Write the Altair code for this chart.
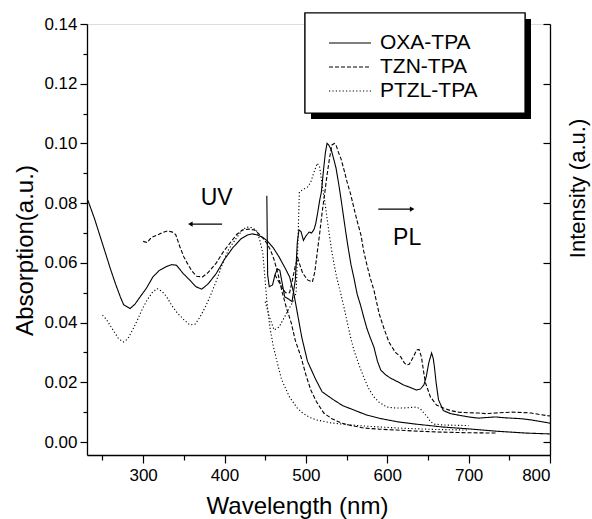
import altair as alt
import pandas as pd

FONT = "Liberation Sans"

compounds = ["OXA-TPA", "TZN-TPA", "PTZL-TPA"]

# ---- OXA-TPA ----
oxa_abs_nm = [232, 240, 247, 254, 260, 266, 272, 276, 284, 290, 296, 304, 312, 320, 329, 335, 341, 349,
              357, 365, 372, 380, 390, 400, 410, 420, 428, 434, 441, 447, 452, 460, 467, 474, 480, 485,
              490, 495, 502, 512, 520, 532, 545, 561, 575, 593, 612, 635, 669, 700, 735, 770, 800]
oxa_abs_val = [0.081, 0.075, 0.069, 0.063, 0.0578, 0.053, 0.0486, 0.046, 0.0447, 0.0462, 0.0485, 0.0515,
               0.0553, 0.0575, 0.0588, 0.0594, 0.0592, 0.0565, 0.0543, 0.052, 0.0512, 0.053, 0.0565,
               0.0612, 0.065, 0.068, 0.0693, 0.0697, 0.0693, 0.0685, 0.0675, 0.065, 0.062, 0.0585,
               0.0553, 0.05, 0.0425, 0.035, 0.027, 0.021, 0.0168, 0.0145, 0.0122, 0.0105, 0.009,
               0.0078, 0.0068, 0.006, 0.005, 0.0044, 0.0036, 0.003, 0.0027]

oxa_pl_nm = [452, 453, 455, 459, 462, 465, 468, 471, 474, 478, 483, 487, 489.5, 491.5, 494, 497, 500,
             504, 507, 510, 512, 514, 517, 519, 522, 524, 526, 528, 531, 534, 537, 540, 543, 546, 549,
             552, 555.5, 559, 563, 567, 571, 575, 579, 583.6, 588, 592, 598, 604, 612, 620, 628, 636,
             641, 645, 648, 651, 654.5, 656.5, 658, 660, 663, 669, 678, 687.5, 700, 712, 722, 733, 745,
             752, 765, 777, 790, 800]
oxa_pl_val = [0.0825, 0.056, 0.052, 0.0526, 0.056, 0.058, 0.0575, 0.053, 0.0486, 0.048, 0.047, 0.0543,
              0.067, 0.071, 0.0705, 0.0675, 0.069, 0.0703, 0.07, 0.0712, 0.073, 0.076, 0.081, 0.0837,
              0.092, 0.097, 0.1, 0.0995, 0.098, 0.095, 0.0918, 0.087, 0.0817, 0.076, 0.0703, 0.065,
              0.0593, 0.055, 0.0495, 0.046, 0.0419, 0.038, 0.035, 0.0318, 0.027, 0.0241, 0.0225,
              0.0214, 0.0203, 0.0191, 0.0183, 0.0174, 0.0178, 0.0191, 0.022, 0.0265, 0.0298, 0.028,
              0.0251, 0.02, 0.0141, 0.0105, 0.0095, 0.009, 0.0084, 0.008, 0.0082, 0.0084, 0.0081,
              0.008, 0.0078, 0.0074, 0.0068, 0.0063]

# ---- TZN-TPA ----
tzn_abs_nm = [300, 305, 310, 317, 324, 330, 336, 340, 345, 350, 354, 360, 366, 373, 380, 390, 398, 405,
              415, 422, 430, 437, 445, 452, 457, 461, 466, 471, 476, 482, 487, 494, 500, 506, 513, 522,
              532, 543, 556, 571, 590, 612, 640, 669, 700, 735]
tzn_abs_val = [0.0672, 0.0668, 0.0685, 0.0693, 0.0702, 0.0707, 0.0703, 0.0695, 0.0655, 0.062, 0.06,
               0.0572, 0.0555, 0.0553, 0.0568, 0.06, 0.0635, 0.066, 0.0695, 0.071, 0.0713, 0.071,
               0.069, 0.0666, 0.064, 0.061, 0.056, 0.05, 0.045, 0.0399, 0.034, 0.0285, 0.0225,
               0.0174, 0.0135, 0.0097, 0.0078, 0.0064, 0.0055, 0.0047, 0.0043, 0.004, 0.0036,
               0.0033, 0.0031, 0.003]

tzn_pl_nm = [462, 466, 470, 475, 480, 484, 487, 490, 493, 496, 502, 508, 511, 514, 517, 520, 523, 526,
             529, 532, 535, 537, 540, 543, 547, 550.6, 555, 559, 563, 567.7, 571, 575, 579, 583.6, 590,
             596, 602, 610, 616.6, 621, 624, 627, 630, 633, 636, 639, 642, 645, 647, 653, 660.6, 669,
             678, 687.5, 700, 712, 722, 733, 745, 752, 765, 777, 788, 800]
tzn_pl_val = [0.056, 0.054, 0.052, 0.05, 0.05, 0.055, 0.059, 0.0616, 0.059, 0.0566, 0.0543, 0.0536,
              0.057, 0.0636, 0.07, 0.077, 0.083, 0.0894, 0.095, 0.0995, 0.1, 0.0995, 0.097, 0.095,
              0.091, 0.0871, 0.083, 0.0784, 0.074, 0.0693, 0.064, 0.0593, 0.055, 0.0509, 0.043,
              0.038, 0.0335, 0.03, 0.0285, 0.0265, 0.0258, 0.026, 0.0275, 0.029, 0.0308, 0.031,
              0.0285, 0.023, 0.0198, 0.0151, 0.0124, 0.0114, 0.0105, 0.01, 0.0098, 0.0097, 0.0095,
              0.0097, 0.0099, 0.01, 0.0099, 0.0097, 0.0092, 0.0087]

# ---- PTZL-TPA ----
ptzl_abs_nm = [250, 255, 263, 270, 276, 281, 287, 293, 299, 305, 311, 317, 323, 329, 335, 342, 350,
               357.5, 364, 370, 376, 382, 390, 398, 405, 415, 422, 427, 433, 439, 443, 447, 450, 452,
               456, 460, 464, 470, 480, 489, 496, 505, 513, 531, 551, 580, 620, 660, 700]
ptzl_abs_val = [0.0425, 0.041, 0.0375, 0.0345, 0.0335, 0.0345, 0.0375, 0.0409, 0.0445, 0.0476, 0.05,
                0.0514, 0.0505, 0.0486, 0.0458, 0.0432, 0.041, 0.0392, 0.0395, 0.0419, 0.045, 0.0486,
                0.054, 0.06, 0.0645, 0.0685, 0.071, 0.072, 0.0718, 0.071, 0.068, 0.0633, 0.054,
                0.047, 0.038, 0.032, 0.0275, 0.021, 0.015, 0.0115, 0.0097, 0.0082, 0.0074, 0.0064,
                0.0058, 0.0052, 0.0046, 0.0042, 0.004]

ptzl_pl_nm = [450, 455, 461, 467, 476, 484, 488, 490, 492, 496, 502, 506, 510, 514, 517, 520, 523, 526,
              529, 532, 535, 538, 543, 547, 551, 555, 559, 565, 571, 577, 583.6, 590, 599.5, 610, 620,
              630, 636, 641, 645, 650, 653, 658, 669, 685, 700]
ptzl_pl_val = [0.047, 0.042, 0.0375, 0.0385, 0.043, 0.047, 0.05, 0.065, 0.0837, 0.0845, 0.0854, 0.087,
               0.0904, 0.0934, 0.092, 0.086, 0.081, 0.075, 0.069, 0.0636, 0.059, 0.055, 0.0495,
               0.0449, 0.0399, 0.035, 0.0308, 0.026, 0.0218, 0.018, 0.0151, 0.0133, 0.0117, 0.0114,
               0.0114, 0.0116, 0.0117, 0.011, 0.0097, 0.0082, 0.0068, 0.006, 0.0057, 0.0056, 0.0055]

series = [
    ("OXA-TPA", "UV", oxa_abs_nm, oxa_abs_val),
    ("OXA-TPA", "PL", oxa_pl_nm, oxa_pl_val),
    ("TZN-TPA", "UV", tzn_abs_nm, tzn_abs_val),
    ("TZN-TPA", "PL", tzn_pl_nm, tzn_pl_val),
    ("PTZL-TPA", "UV", ptzl_abs_nm, ptzl_abs_val),
    ("PTZL-TPA", "PL", ptzl_pl_nm, ptzl_pl_val),
]
rows = []
for comp, kind, xs, ys in series:
    for x, y in zip(xs, ys):
        rows.append({"compound": comp, "kind": kind, "nm": x, "value": y})
df = pd.DataFrame(rows)

# annotations (data coordinates)
label_text = ["UV", "PL"]
label_nm = [390.3, 624.4]
label_val = [0.0794, 0.066]
arrow_from = [397, 589]
arrow_to = [358, 630.6]
arrow_val = [0.073, 0.078]
arrow_dir = ["left", "right"]

labels_df = pd.DataFrame({"t": label_text, "nm": label_nm, "value": label_val})
arrows_df = pd.DataFrame({"x1": arrow_from, "x2": arrow_to, "value": arrow_val, "dir": arrow_dir})

x_ticks = list(range(250, 801, 50))
y_ticks = [round(i * 0.01, 2) for i in range(15)]
y_major = [round(i * 0.02, 2) for i in range(8)]

xscale = alt.Scale(domain=[231, 800], nice=False, zero=False)
yscale = alt.Scale(domain=[-0.00435, 0.14], nice=False, zero=False)

xaxis = alt.Axis(
    values=x_ticks, format="d",
    labelExpr="datum.value % 100 === 0 ? datum.label : ''",
    tickSize={"condition": {"test": "datum.value % 100 === 0", "value": 8}, "value": 5},
    labelPadding=4, labelFontSize=17, labelFont=FONT, labelColor="black",
    grid=False, domainColor="black", domainWidth=1.3, tickColor="black", tickWidth=1.2,
    title="Wavelength (nm)", titleFont=FONT, titleFontSize=24, titleFontWeight="normal",
    titleColor="black", titleX=210, titleY=58, titleBaseline="alphabetic", titleAlign="center",
)
yaxis = alt.Axis(
    orient="left", values=y_ticks, format=".2f",
    labelExpr="round(datum.value * 100) % 2 === 0 ? datum.label : ''",
    tickSize={"condition": {"test": "round(datum.value * 100) % 2 === 0", "value": 7}, "value": 4},
    labelPadding=3, labelFontSize=17, labelFont=FONT, labelColor="black",
    grid=False, domainColor="black", domainWidth=1.3, tickColor="black", tickWidth=1.2,
    title="Absorption(a.u.)", titleFont=FONT, titleFontSize=24, titleFontWeight="normal",
    titleColor="black", titleX=-62, titleY=226, titleAngle=270, titleAlign="center",
    titleBaseline="middle",
)
inner_right_axis = alt.Axis(
    orient="left", offset=-463, values=y_major, labels=False, tickSize=7,
    grid=False, domainColor="black", domainWidth=1.3, tickColor="black", tickWidth=1.2,
    title=None,
)
right_title_axis = alt.Axis(
    orient="right", labels=False, ticks=False, domain=False, grid=False,
    title="Intensity (a.u.)", titleFont=FONT, titleFontSize=22, titleFontWeight="normal",
    titleColor="black", titleX=27, titleY=164, titleAngle=270, titleAlign="center",
    titleBaseline="middle",
)

lines = alt.Chart(df).mark_line(strokeWidth=1.1, color="black").encode(
    x=alt.X("nm:Q", scale=xscale, axis=xaxis),
    y=alt.Y("value:Q", scale=yscale, axis=yaxis),
    strokeDash=alt.StrokeDash(
        "compound:N",
        scale=alt.Scale(domain=compounds, range=[[1, 0], [4, 2], [1.2, 2.2]]),
        legend=alt.Legend(
            title=None, orient="none", legendX=252, legendY=8,
            symbolType="M-2.1,0H2.1", symbolSize=400, symbolStrokeWidth=1.2,
            symbolStrokeColor="black", labelFontSize=21, labelFont=FONT,
            labelColor="black", labelOffset=19, rowPadding=3, padding=0,
        ),
    ),
    detail="kind:N",
)

shadow = alt.Chart(labels_df).mark_rect(color="black").encode(
    x=alt.value(224), x2=alt.value(444), y=alt.value(-5), y2=alt.value(95)
)
box = alt.Chart(labels_df).mark_rect(fill="white", stroke="black", strokeWidth=1.2).encode(
    x=alt.value(218), x2=alt.value(438), y=alt.value(-11), y2=alt.value(89)
)

arrow_lines = alt.Chart(arrows_df).mark_rule(color="black", strokeWidth=1.3).encode(
    x=alt.X("x1:Q", scale=xscale, axis=xaxis),
    x2="x2:Q",
    y=alt.Y("value:Q", scale=yscale, axis=None),
)
arrow_heads = alt.Chart(arrows_df).mark_point(filled=True, color="black", opacity=1, size=28).encode(
    x=alt.X("x2:Q", scale=xscale, axis=xaxis),
    y=alt.Y("value:Q", scale=yscale, axis=None),
    shape=alt.Shape("dir:N", scale=alt.Scale(domain=["left", "right"],
                                             range=["triangle-left", "triangle-right"]), legend=None),
)
texts = alt.Chart(labels_df).mark_text(font=FONT, fontSize=23, color="black", align="center",
                                       baseline="alphabetic").encode(
    x=alt.X("nm:Q", scale=xscale, axis=xaxis),
    y=alt.Y("value:Q", scale=yscale, axis=None),
    text="t:N",
)

right_ticks = alt.Chart(df).mark_point(opacity=0).encode(
    y=alt.Y("value:Q", scale=yscale, axis=inner_right_axis)
)
right_title = alt.Chart(df).mark_point(opacity=0).encode(
    y=alt.Y("value:Q", scale=yscale, axis=right_title_axis)
)

chart = alt.layer(
    lines, shadow, box, arrow_lines, arrow_heads, texts, right_ticks, right_title
).resolve_axis(y="independent").properties(
    width=463, height=431,
    autosize=alt.AutoSizeParams(type="none"),
    padding={"left": 87, "top": 24, "right": 42, "bottom": 64},
).configure_view(strokeWidth=0).configure(background="white")

chart.save("out.html", embed_options={"renderer": "svg", "actions": False})
